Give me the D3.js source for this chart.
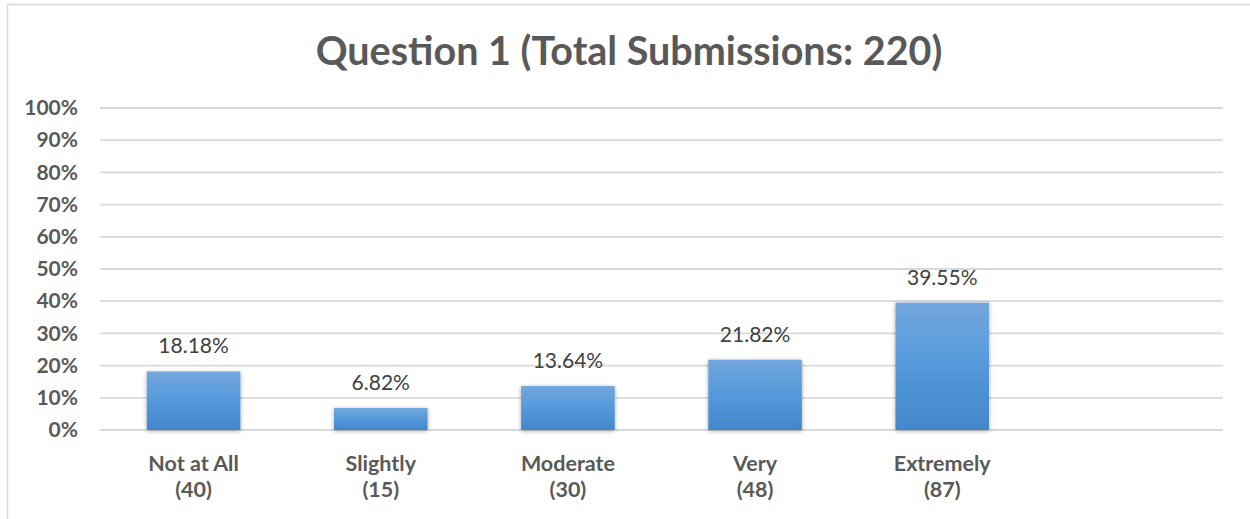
<!DOCTYPE html>
<html><head><meta charset="utf-8">
<script src="https://cdn.jsdelivr.net/npm/d3@7"></script>
<style>html,body{margin:0;padding:0;background:#fff;}svg{display:block;}</style>
</head><body>
<script>
const categories = ["Not at All", "Slightly", "Moderate", "Very", "Extremely", ""];
const counts = [40, 15, 30, 48, 87, null];
const percents = [18.18, 6.82, 13.64, 21.82, 39.55, null];
const yTicks = [0, 10, 20, 30, 40, 50, 60, 70, 80, 90, 100];
const titleText = "Question 1 (Total Submissions: 220)";

const W = 1250, H = 519;
const margin = {left: 100, right: 27, top: 108, bottom: 89};
const font = "Lato, 'Open Sans', sans-serif";

const svg = d3.select("body").append("svg").attr("width", W).attr("height", H);
const defs = svg.append("defs");
const grad = defs.append("linearGradient").attr("id", "barGrad").attr("x1", 0).attr("y1", 0).attr("x2", 0).attr("y2", 1);
grad.append("stop").attr("offset", "0%").attr("stop-color", "#72a7dc");
grad.append("stop").attr("offset", "50%").attr("stop-color", "#5599dc");
grad.append("stop").attr("offset", "100%").attr("stop-color", "#4287ca");
const filt = defs.append("filter").attr("id", "shadow").attr("x", "-20%").attr("y", "-20%").attr("width", "140%").attr("height", "140%");
filt.append("feDropShadow").attr("dx", 0).attr("dy", 1).attr("stdDeviation", 2.2).attr("flood-color", "#000").attr("flood-opacity", 0.35);

// chart border (top and left visible)
svg.append("line").attr("x1", 7).attr("x2", W).attr("y1", 4.5).attr("y2", 4.5).attr("stroke", "#d9d9d9").attr("stroke-width", 1.5);
svg.append("line").attr("x1", 7.5).attr("x2", 7.5).attr("y1", 4).attr("y2", H).attr("stroke", "#d9d9d9").attr("stroke-width", 1.5);

const x = d3.scaleBand().domain(d3.range(categories.length)).range([margin.left, W - margin.right]).paddingInner(0.5).paddingOuter(0.25);
const y = d3.scaleLinear().domain([0, 100]).range([H - margin.bottom, margin.top]);

// gridlines
svg.append("g").selectAll("line").data(yTicks).join("line")
  .attr("x1", margin.left).attr("x2", W - margin.right)
  .attr("y1", d => y(d)).attr("y2", d => y(d))
  .attr("stroke", "#d9d9d9").attr("stroke-width", 1.8);

// y axis labels
const yAxis = d3.axisLeft(y).tickValues(yTicks).tickFormat(d => d + "%").tickSize(0).tickPadding(22);
const ya = svg.append("g").attr("transform", `translate(${margin.left},0)`).call(yAxis);
ya.select(".domain").remove();
ya.selectAll("text").attr("font-family", font).attr("font-size", 21).attr("font-weight", "bold").attr("fill", "#595959");

// bars
const data = categories.map((c, i) => ({c, i, n: counts[i], p: percents[i]})).filter(d => d.p !== null);
svg.append("g").selectAll("rect").data(data).join("rect")
  .attr("x", d => x(d.i)).attr("width", x.bandwidth())
  .attr("y", d => y(d.p)).attr("height", d => y(0) - y(d.p))
  .attr("fill", "url(#barGrad)").attr("filter", "url(#shadow)");

// data labels
svg.append("g").selectAll("text").data(data).join("text")
  .attr("x", d => x(d.i) + x.bandwidth() / 2).attr("y", d => y(d.p) - 18)
  .attr("text-anchor", "middle").attr("font-family", font).attr("font-size", 21)
  .attr("fill", "#404040").text(d => d.p.toFixed(2) + "%");

// category labels
const cat = svg.append("g").selectAll("text").data(data).join("text")
  .attr("text-anchor", "middle").attr("font-family", font).attr("font-size", 21.5)
  .attr("font-weight", "bold").attr("fill", "#595959");
cat.append("tspan").attr("x", d => x(d.i) + x.bandwidth() / 2).attr("y", 471).text(d => d.c);
cat.append("tspan").attr("x", d => x(d.i) + x.bandwidth() / 2).attr("y", 497).text(d => "(" + d.n + ")");

// title
svg.append("text").attr("x", 629).attr("y", 65).attr("text-anchor", "middle")
  .attr("font-family", font).attr("font-size", 39.5).attr("font-weight", "bold").attr("fill", "#595959")
  .text(titleText);
</script>
</body></html>
